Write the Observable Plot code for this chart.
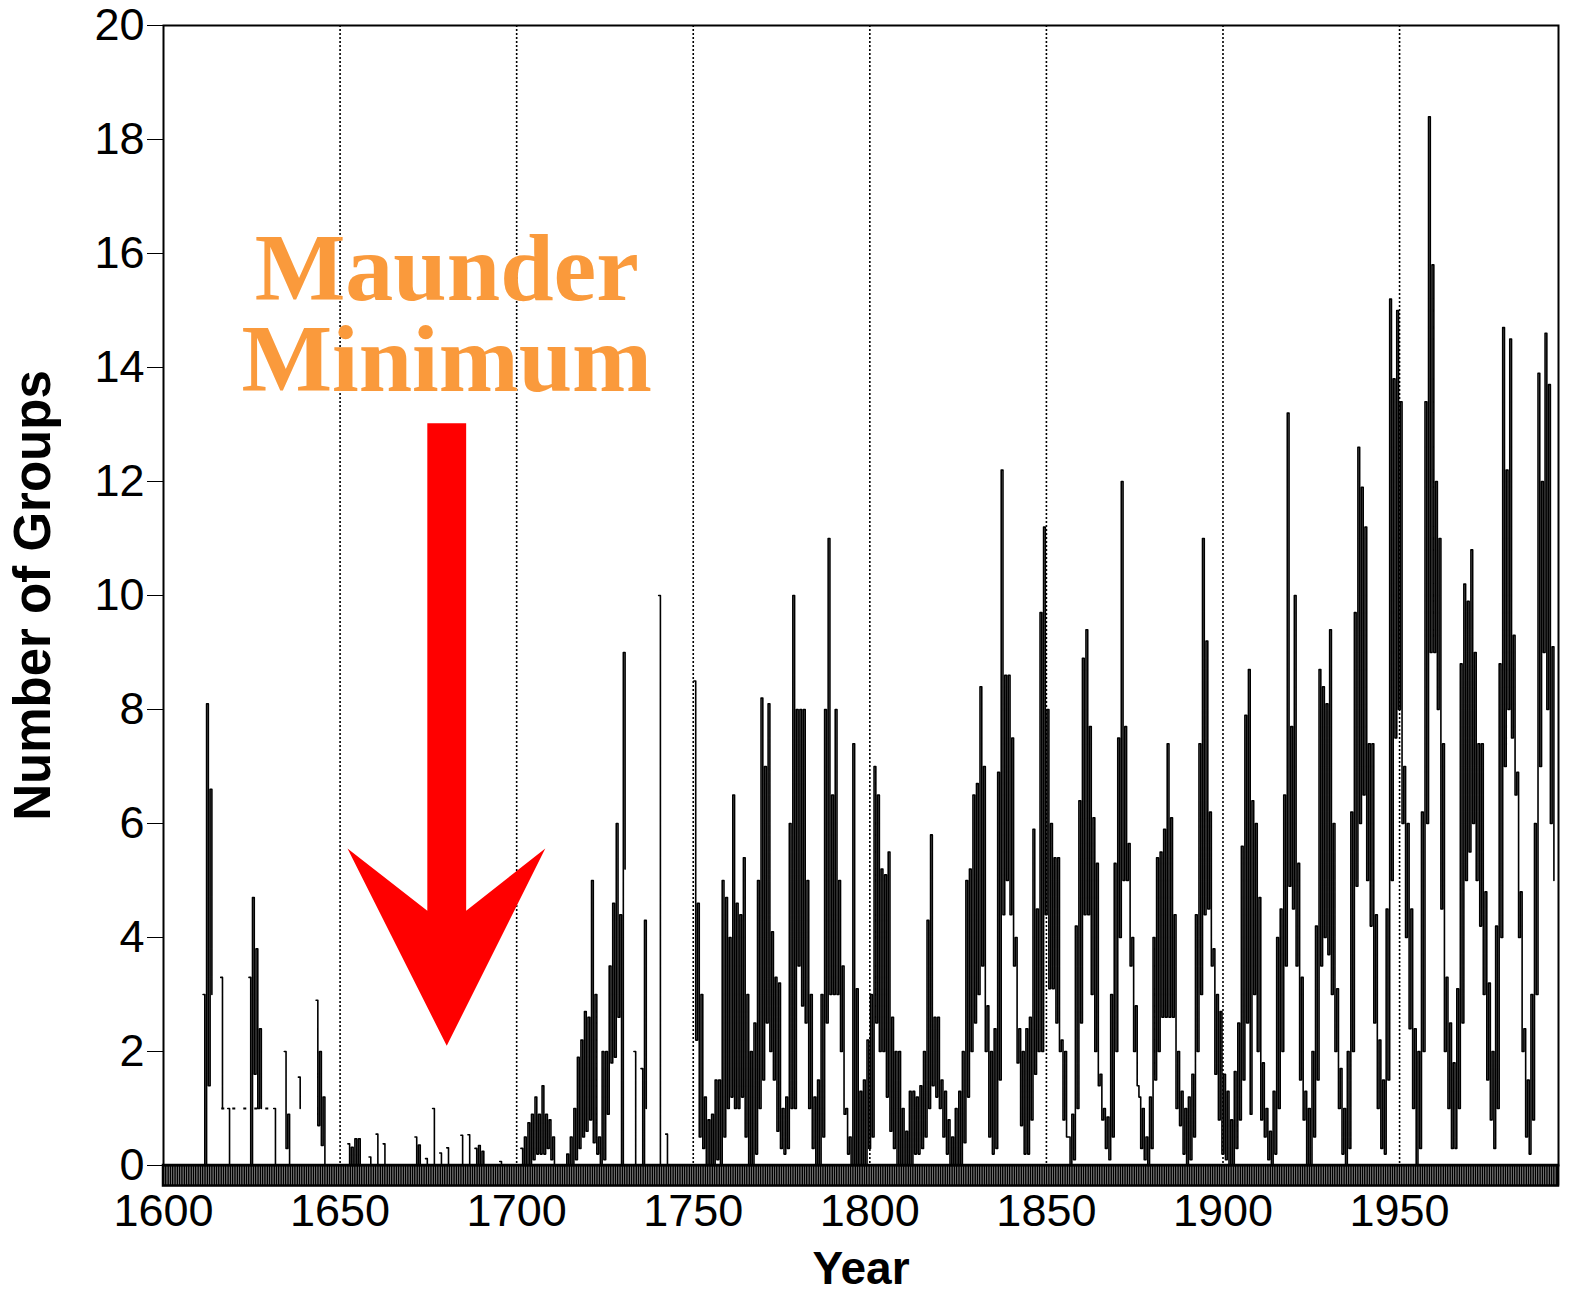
<!DOCTYPE html>
<html>
<head>
<meta charset="utf-8">
<script src="https://cdn.jsdelivr.net/npm/d3@7"></script>
<script src="https://cdn.jsdelivr.net/npm/@observablehq/plot@0.6"></script>
<style>
  html, body { margin: 0; padding: 0; background: #fff; }
  svg { display: block; }
</style>
</head>
<body>
<script>
// ---------------- Data ----------------
const firstYear = 1610;
// Yearly lowest and highest monthly number of sunspot groups (null = no observations)
const groupsLow = [
  // 1610s
  null,0,1.4,3.0,null,null,1.0,null,0,null,
  // 1620s
  null,null,null,null,0,1.6,1.0,1.0,null,null,
  // 1630s
  null,0,null,null,0.3,0,null,null,1.0,null,
  // 1640s
  null,null,null,0.7,0.35,0,null,null,null,null,
  // 1650s
  null,null,0,0,0,0,null,null,0,null,
  // 1660s
  0,null,0,null,null,null,null,null,null,null,
  // 1670s
  null,0,0,null,0,null,0,null,0,null,
  // 1680s
  0,null,null,null,0,null,0,null,0,0,
  // 1690s
  0,null,null,null,null,0,null,null,null,null,
  // 1700s
  null,0,0,0,0.1,0.2,0.2,0.2,0.3,0.1,
  // 1710s
  0,0,0,0,0,0,0.1,0.3,0.5,0.6,
  // 1720s
  0.8,0.4,0.2,0,0.1,0.9,1.8,1.9,2.6,0,
  // 1730s
  5.2,null,null,0,null,0,1.0,null,null,null,
  // 1740s
  0,null,0,null,null,null,null,null,null,null,
  // 1750s
  2.2,0.5,0.3,0,0,0,0.1,0,0.5,1.0,
  // 1760s
  1.2,1.0,1.0,1.2,0.5,0,0,0.2,1.0,1.5,
  // 1770s
  2.5,2.0,1.5,0.6,0.3,0.2,0.3,1.0,1.0,3.5,
  // 1780s
  2.8,2.5,1.0,0.3,0,0,0.5,2.5,3.0,3.0,
  // 1790s
  3.0,2.0,0.9,0.2,0,0,0,0,0,0.3,
  // 1800s
  0.5,2.5,2.0,2.0,1.2,0.6,0.3,0,0,0,
  // 1810s
  0,0,0.2,0.2,0.3,0.5,1.0,1.4,1.2,1.0,
  // 1820s
  0.5,0.2,0,0,0,0,0.4,1.2,2.0,2.5,
  // 1830s
  3.0,3.5,2.0,0.5,0.2,0.3,1.5,4.4,5.0,4.4,
  // 1840s
  3.5,1.8,0.7,0.2,0.2,0.8,1.6,2.0,2.0,4.4,
  // 1850s
  3.1,3.1,2.5,2.0,0.8,0.5,0,0.1,1.0,2.5,
  // 1860s
  4.4,4.4,3.0,2.0,1.4,0.8,0.3,0.1,0.5,2.0,
  // 1870s
  4.0,5.0,5.0,3.5,2.0,1.4,0.3,0.1,0,0.3,
  // 1880s
  1.5,2.0,2.6,2.6,2.6,2.6,1.0,0.7,0.2,0,
  // 1890s
  0.1,0.5,2.0,3.0,4.4,4.5,3.5,1.6,0.8,0.2,
  // 1900s
  0.1,0,0,0.3,0.8,1.5,2.5,0.9,3.0,2.0,
  // 1910s
  0.8,0.5,0.1,0,0.2,1.0,2.0,3.5,4.9,4.5,
  // 1920s
  3.5,1.5,0.8,0,0,0.5,1.5,3.5,4.0,3.7,
  // 1930s
  3.0,2.0,1.0,0.2,0,0.3,2.0,4.9,6.0,6.5,
  // 1940s
  5.0,4.2,2.5,1.0,0.3,0.2,1.5,5.0,7.5,8.0,
  // 1950s
  6.0,4.0,2.4,1.0,0,0.3,2.0,6.0,9.0,9.0,
  // 1960s
  8.0,4.5,2.0,1.0,0.3,0.3,1.0,2.5,5.0,5.5,
  // 1970s
  6.0,5.0,4.2,3.0,1.5,0.8,0.3,1.0,4.0,7.0,
  // 1980s
  8.0,7.5,6.5,4.0,2.0,0.5,0.2,0.8,3.0,7.0,
  // 1990s
  9.0,8.0,6.0,5.0
];
const groupsHigh = [
  // 1610s
  null,3.0,8.1,6.6,null,null,3.3,null,1.0,null,
  // 1620s
  null,null,null,null,3.3,4.7,3.8,2.4,null,null,
  // 1630s
  null,1.0,null,null,2.0,0.9,null,null,1.55,null,
  // 1640s
  null,null,null,2.9,2.0,1.2,null,null,null,null,
  // 1650s
  null,null,0.38,0.32,0.47,0.47,null,null,0.15,null,
  // 1660s
  0.55,null,0.38,null,null,null,null,null,null,null,
  // 1670s
  null,0.5,0.36,null,0.12,null,1.0,null,0.22,null,
  // 1680s
  0.31,null,null,null,0.53,null,0.54,null,0.3,0.35,
  // 1690s
  0.25,null,null,null,null,0.07,null,null,null,null,
  // 1700s
  null,0.3,0.5,0.75,0.9,1.2,0.9,1.4,0.9,0.8,
  // 1710s
  0.5,0,0,0,0.2,0.5,1.0,1.9,2.2,2.7,
  // 1720s
  2.6,5.0,3.0,0.5,2.0,2.0,3.5,4.6,6.0,4.4,
  // 1730s
  9.0,null,null,2.0,null,1.7,4.3,null,null,null,
  // 1740s
  10.0,null,0.55,null,null,null,null,null,null,null,
  // 1750s
  8.5,4.6,3.0,1.2,0.8,0.9,1.5,1.5,5.0,4.7,
  // 1760s
  4.0,6.5,4.6,4.4,5.4,3.0,2.0,2.5,5.0,8.2,
  // 1770s
  7.0,8.1,4.1,3.3,3.2,1.0,1.2,6.0,10.0,8.0,
  // 1780s
  8.0,8.0,5.0,3.0,1.2,1.5,3.0,8.0,11.0,6.5,
  // 1790s
  8.0,5.0,3.5,1.0,0.5,7.4,3.1,1.3,1.5,2.2,
  // 1800s
  3.0,7.0,6.5,5.2,5.1,5.5,2.6,2.0,2.0,1.0,
  // 1810s
  0.6,1.3,1.3,1.2,1.4,2.0,4.3,5.8,2.6,2.6,
  // 1820s
  1.5,1.3,0.8,0.5,1.0,1.3,2.0,5.0,5.2,6.5,
  // 1830s
  6.7,8.4,7.0,2.8,2.0,2.4,6.9,12.2,8.6,8.6,
  // 1840s
  7.5,4.0,2.4,2.0,2.4,2.6,5.9,4.5,9.7,11.2,
  // 1850s
  8.0,6.0,5.4,5.4,2.2,2.0,0.5,0.9,4.2,6.4,
  // 1860s
  8.9,9.4,7.7,6.1,5.3,1.6,1.0,0.85,3.0,5.3,
  // 1870s
  7.5,12.0,7.7,5.65,4.0,2.8,1.2,1.0,0.5,1.2,
  // 1880s
  4.0,5.4,5.5,5.9,7.4,6.1,4.4,2.0,1.3,1.0,
  // 1890s
  1.2,1.6,4.4,7.4,11.0,9.2,6.2,3.8,3.0,2.7,
  // 1900s
  1.6,1.3,0.8,1.65,2.5,5.6,7.9,8.7,6.4,6.0,
  // 1910s
  4.7,1.8,1.0,0.6,1.3,4.0,4.5,6.5,13.2,7.7,
  // 1920s
  10.0,5.3,3.3,1.3,1.0,2.0,4.2,8.7,8.4,8.1,
  // 1930s
  9.4,6.0,3.1,1.7,1.0,2.0,6.2,9.7,12.6,11.9,
  // 1940s
  11.2,7.4,7.4,4.4,2.2,1.5,4.5,15.2,13.8,15.0,
  // 1950s
  13.4,7.0,6.0,4.5,2.4,2.0,6.2,13.4,18.4,15.8,
  // 1960s
  12.0,11.0,7.4,3.3,2.5,1.8,3.1,8.8,10.2,9.9,
  // 1970s
  10.8,9.0,7.4,7.4,4.8,3.2,2.0,4.2,8.8,14.7,
  // 1980s
  12.2,14.5,9.3,6.9,4.8,2.4,1.5,3.0,6.0,13.9,
  // 1990s
  12.0,14.6,13.7,9.1
];
// Dotted stretch drawn at a constant level in the early record
const dottedStretch = [{x1: 1616.5, x2: 1631.5, y: 1}];

// Axis ticks and labels
const xTicks = [1600, 1650, 1700, 1750, 1800, 1850, 1900, 1950];
const gridYears = [1650, 1700, 1750, 1800, 1850, 1900, 1950];
const yTicks = [0, 2, 4, 6, 8, 10, 12, 14, 16, 18, 20];
const xDomain = [1600, 1995];
const yLabel = "Number of Groups";
const xLabel = "Year";

// Annotation
const annotationLines = [
  {text: "Maunder", x: 1680.2, y: 15.72},
  {text: "Minimum", x: 1680.2, y: 14.13}
];
const arrowShape = [
  [1674.7, 13.02], [1685.7, 13.02], [1685.7, 4.47], [1708.1, 5.56],
  [1680.2, 2.1], [1652.1, 5.56], [1674.7, 4.47], [1674.7, 13.02]
];

// ---------------- Build series ----------------
const series = [];
groupsHigh.forEach((hi, i) => {
  const year = firstYear + i;
  const lo = groupsLow[i];
  if (hi == null) {
    series.push({x: year + 0.2, y: null});
  } else {
    series.push({x: year + 0.2, y: hi});
    series.push({x: year + 0.7, y: lo});
  }
});

// hatched strip below the baseline (half-yearly ticks)
const bandDepth = 0.36;
const bandTicks = d3.range(xDomain[0], xDomain[1] + 0.01, 0.5);
const bandBox = [{x1: xDomain[0], x2: xDomain[1], y1: -bandDepth, y2: 0}];

const chart = Plot.plot({
  width: 1572,
  height: 1295,
  marginLeft: 163,
  marginRight: 14,
  marginTop: 25,
  marginBottom: 130,
  x: {domain: xDomain},
  y: {domain: [0, 20]},
  style: {fontFamily: "'Liberation Sans', Arial, sans-serif", fontSize: "45px", background: "white", color: "black"},
  marks: [
    Plot.ruleX(gridYears, {stroke: "black", strokeWidth: 1.6, strokeDasharray: "2,2"}),
    Plot.ruleX(bandTicks, {x: d => d, y1: -bandDepth, y2: 0, stroke: "black", strokeWidth: 1.45}),
    Plot.rect(bandBox, {x1: "x1", x2: "x2", y1: "y1", y2: "y2", fill: "none", stroke: "black", strokeWidth: 2.5}),
    Plot.ruleY(dottedStretch, {y: "y", x1: "x1", x2: "x2", stroke: "black", strokeWidth: 2, strokeDasharray: "3,8"}),
    Plot.line(series, {x: "x", y: "y", curve: "step-after", stroke: "black", strokeWidth: 1.6}),
    Plot.frame({stroke: "black", strokeWidth: 2}),
    Plot.axisY({ticks: yTicks, tickSize: 16, tickPadding: 3, label: null, fontSize: 45}),
    Plot.axisX({ticks: xTicks, tickSize: 0, tickPadding: 29, label: null, fontSize: 45, tickFormat: d => String(d)}),
    Plot.text([yLabel], {frameAnchor: "left", textAnchor: "middle", rotate: -90, dx: -130, fontSize: 51, fontWeight: "bold", fill: "black"}),
    Plot.text([xLabel], {frameAnchor: "bottom", textAnchor: "middle", lineAnchor: "middle", dy: 104, fontSize: 46, fontWeight: "bold", fill: "black"}),
    Plot.line(arrowShape, {x: d => d[0], y: d => d[1], fill: "#ff0000", stroke: "none"}),
    Plot.text(annotationLines, {x: "x", y: "y", text: "text", fill: "#fa9a3c", fontSize: 96, fontWeight: "bold",
      fontFamily: "'Liberation Serif', 'Times New Roman', serif", lineAnchor: "middle"})
  ]
});
document.body.appendChild(chart);
</script>
</body>
</html>
